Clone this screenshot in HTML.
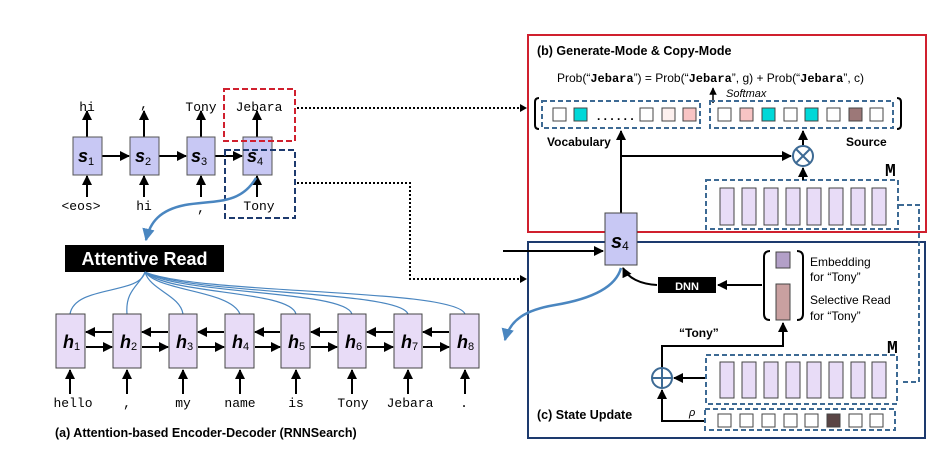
<!DOCTYPE html>
<html><head><meta charset="utf-8"><style>
html,body{margin:0;padding:0;background:#fff;}
svg{display:block;}
text{font-family:"Liberation Sans",sans-serif;}
.mono text, text.mono, tspan.mono{font-family:"Liberation Mono",monospace;}
</style></head><body>
<svg width="951" height="466" viewBox="0 0 951 466" xmlns="http://www.w3.org/2000/svg">
<defs>
<marker id="ah" viewBox="0 0 10 10" refX="9" refY="5" markerWidth="5" markerHeight="5" orient="auto"><path d="M0,0 L10,5 L0,10 z" fill="#000"/></marker>
<marker id="bh" viewBox="0 0 10 10" refX="9" refY="5" markerWidth="5" markerHeight="5" orient="auto"><path d="M0,0 L10,5 L0,10 z" fill="#4a86c0"/></marker>
</defs>
<rect width="951" height="466" fill="#fff"/>

<!-- Decoder -->
<g stroke="#000" stroke-width="2" marker-end="url(#ah)">
<line x1="102" y1="156" x2="129" y2="156"/>
<line x1="159" y1="156" x2="186" y2="156"/>
<line x1="215" y1="156" x2="242" y2="156"/>
<line x1="87" y1="137" x2="87" y2="111"/>
<line x1="144" y1="137" x2="144" y2="111"/>
<line x1="201" y1="137" x2="201" y2="111"/>
<line x1="257" y1="137" x2="257" y2="111"/>
<line x1="87" y1="197" x2="87" y2="176"/>
<line x1="144" y1="197" x2="144" y2="176"/>
<line x1="201" y1="197" x2="201" y2="176"/>
<line x1="257" y1="197" x2="257" y2="176"/>
</g>
<g fill="#c8c8f4" stroke="#555" stroke-width="1">
<rect x="73" y="137" width="29" height="38"/>
<rect x="130" y="137" width="29" height="38"/>
<rect x="187" y="137" width="28" height="38"/>
<rect x="243" y="137" width="29" height="38"/>
</g>
<g font-size="18" font-weight="bold" font-style="italic">
<text x="78" y="162">s<tspan font-size="11" font-weight="normal" font-style="normal" dy="3">1</tspan></text>
<text x="135" y="162">s<tspan font-size="11" font-weight="normal" font-style="normal" dy="3">2</tspan></text>
<text x="191" y="162">s<tspan font-size="11" font-weight="normal" font-style="normal" dy="3">3</tspan></text>
<text x="247" y="162">s<tspan font-size="11" font-weight="normal" font-style="normal" dy="3">4</tspan></text>
</g>
<g class="mono" font-size="13" text-anchor="middle">
<text x="87" y="111">hi</text>
<text x="144" y="108">,</text>
<text x="201" y="111">Tony</text>
<text x="259" y="111">Jebara</text>
<text x="81" y="210">&lt;eos&gt;</text>
<text x="144" y="210">hi</text>
<text x="201" y="212">,</text>
<text x="259" y="210">Tony</text>
</g>
<rect x="224" y="89" width="71" height="52" fill="none" stroke="#d0202e" stroke-width="2" stroke-dasharray="6,3"/>
<rect x="225" y="150" width="70" height="68" fill="none" stroke="#1d3a6e" stroke-width="2" stroke-dasharray="6,3"/>
<path d="M256,178 C240,205 215,200 185,205 C160,210 150,222 146,240" fill="none" stroke="#4a86c0" stroke-width="2.5" marker-end="url(#bh)"/>

<!-- dotted connectors -->
<g stroke="#000" stroke-width="2" stroke-dasharray="2,2" fill="none">
<line x1="297" y1="108" x2="522" y2="108"/>
<polyline points="297,183 410,183 410,279 522,279"/>
</g>
<path d="M520,104 L527,108 L520,112 z"/>
<path d="M520,275 L527,279 L520,283 z"/>

<!-- Attentive read -->
<rect x="65" y="245" width="159" height="27" fill="#000"/>
<text x="144.5" y="265" font-size="18" font-weight="bold" fill="#fff" text-anchor="middle">Attentive Read</text>
<g stroke="#4a86c0" stroke-width="1.2" fill="none">
<path d="M145,272 C140,295 75,285 70,314"/>
<path d="M145,272 C140,285 125,290 127,314"/>
<path d="M145,272 C150,290 180,295 183,314"/>
<path d="M145,272 C160,292 230,290 240,314"/>
<path d="M145,272 C170,295 290,290 296,314"/>
<path d="M145,272 C180,295 345,290 352,314"/>
<path d="M145,272 C190,295 400,290 408,314"/>
<path d="M145,272 C200,295 455,288 465,314"/>
</g>

<!-- encoder -->
<g fill="#e8dcf7" stroke="#444" stroke-width="1">
<rect x="56" y="314" width="29" height="54"/>
<rect x="113" y="314" width="28" height="54"/>
<rect x="169" y="314" width="28" height="54"/>
<rect x="225" y="314" width="29" height="54"/>
<rect x="281" y="314" width="29" height="54"/>
<rect x="338" y="314" width="28" height="54"/>
<rect x="394" y="314" width="28" height="54"/>
<rect x="450" y="314" width="29" height="54"/>
</g>
<g stroke="#000" stroke-width="2" marker-end="url(#ah)">
<line x1="112" y1="332" x2="86" y2="332"/><line x1="86" y1="347" x2="112" y2="347"/>
<line x1="168" y1="332" x2="142" y2="332"/><line x1="142" y1="347" x2="168" y2="347"/>
<line x1="224" y1="332" x2="198" y2="332"/><line x1="198" y1="347" x2="224" y2="347"/>
<line x1="280" y1="332" x2="255" y2="332"/><line x1="255" y1="347" x2="280" y2="347"/>
<line x1="337" y1="332" x2="311" y2="332"/><line x1="311" y1="347" x2="337" y2="347"/>
<line x1="393" y1="332" x2="367" y2="332"/><line x1="367" y1="347" x2="393" y2="347"/>
<line x1="449" y1="332" x2="423" y2="332"/><line x1="423" y1="347" x2="449" y2="347"/>
<line x1="70" y1="394" x2="70" y2="370"/><line x1="127" y1="394" x2="127" y2="370"/>
<line x1="183" y1="394" x2="183" y2="370"/><line x1="240" y1="394" x2="240" y2="370"/>
<line x1="296" y1="394" x2="296" y2="370"/><line x1="352" y1="394" x2="352" y2="370"/>
<line x1="408" y1="394" x2="408" y2="370"/><line x1="465" y1="394" x2="465" y2="370"/>
</g>
<g font-size="18" font-weight="bold" font-style="italic">
<text x="63" y="348">h<tspan font-size="11" font-weight="normal" font-style="normal" dy="2">1</tspan></text>
<text x="120" y="348">h<tspan font-size="11" font-weight="normal" font-style="normal" dy="2">2</tspan></text>
<text x="176" y="348">h<tspan font-size="11" font-weight="normal" font-style="normal" dy="2">3</tspan></text>
<text x="232" y="348">h<tspan font-size="11" font-weight="normal" font-style="normal" dy="2">4</tspan></text>
<text x="288" y="348">h<tspan font-size="11" font-weight="normal" font-style="normal" dy="2">5</tspan></text>
<text x="345" y="348">h<tspan font-size="11" font-weight="normal" font-style="normal" dy="2">6</tspan></text>
<text x="401" y="348">h<tspan font-size="11" font-weight="normal" font-style="normal" dy="2">7</tspan></text>
<text x="457" y="348">h<tspan font-size="11" font-weight="normal" font-style="normal" dy="2">8</tspan></text>
</g>
<g class="mono" font-size="13" text-anchor="middle">
<text x="73" y="407">hello</text><text x="127" y="407">,</text><text x="183" y="407">my</text>
<text x="240" y="407">name</text><text x="296" y="407">is</text><text x="353" y="407">Tony</text>
<text x="410" y="407">Jebara</text><text x="464" y="407">.</text>
</g>
<text x="55" y="437" font-size="12.5" font-weight="bold">(a) Attention-based Encoder-Decoder (RNNSearch)</text>

<!-- right boxes -->
<rect x="528" y="35" width="398" height="197" fill="none" stroke="#d0202e" stroke-width="2"/>
<rect x="528" y="242" width="397" height="196" fill="none" stroke="#1d3a6e" stroke-width="2"/>
<text x="537" y="55" font-size="12.5" font-weight="bold">(b) Generate-Mode &amp; Copy-Mode</text>
<text x="557" y="82" font-size="12">Prob(“<tspan class="mono" font-weight="bold">Jebara</tspan>”) = Prob(“<tspan class="mono" font-weight="bold">Jebara</tspan>”, g) + Prob(“<tspan class="mono" font-weight="bold">Jebara</tspan>”, c)</text>
<text x="726" y="97" font-size="11" font-style="italic">Softmax</text>
<line x1="713" y1="103" x2="713" y2="88" stroke="#000" stroke-width="1.5" marker-end="url(#ah)"/>
<path d="M539,98 Q535,98 535,102 L535,125 Q535,129 539,129" fill="none" stroke="#000" stroke-width="2"/>
<path d="M897,98 Q901,98 901,102 L901,125 Q901,129 897,129" fill="none" stroke="#000" stroke-width="2"/>
<g fill="none" stroke="#3d6a94" stroke-width="2" stroke-dasharray="5,3">
<rect x="542" y="101" width="158" height="27"/>
<rect x="710" y="101" width="183" height="27"/>
<rect x="706" y="180" width="192" height="49"/>
<rect x="706" y="355" width="191" height="49"/>
<rect x="705" y="409" width="190" height="21"/>
<polyline points="899,205 919,205 919,382 902,382"/>
</g>
<g stroke="#444" stroke-width="1">
<rect x="553" y="108" width="13" height="13" fill="#fff"/>
<rect x="574" y="108" width="13" height="13" fill="#00d8d8"/>
<rect x="640" y="108" width="13" height="13" fill="#fff"/>
<rect x="662" y="108" width="13" height="13" fill="#fdf0ee"/>
<rect x="683" y="108" width="13" height="13" fill="#f8c4c4"/>
<rect x="718" y="108" width="13" height="13" fill="#fff"/>
<rect x="740" y="108" width="13" height="13" fill="#f8c4c4"/>
<rect x="762" y="108" width="13" height="13" fill="#00d8d8"/>
<rect x="784" y="108" width="13" height="13" fill="#fff"/>
<rect x="805" y="108" width="13" height="13" fill="#00d8d8"/>
<rect x="827" y="108" width="13" height="13" fill="#fff"/>
<rect x="849" y="108" width="13" height="13" fill="#9c7878"/>
<rect x="870" y="108" width="13" height="13" fill="#fff"/>
</g>
<text x="597" y="120" font-size="12" font-weight="bold">. . .  . . .</text>
<text x="547" y="146" font-size="12" font-weight="bold">Vocabulary</text>
<text x="846" y="146" font-size="12" font-weight="bold">Source</text>
<g stroke="#000" stroke-width="2" fill="none">
<line x1="621" y1="213" x2="621" y2="131" marker-end="url(#ah)"/>
<line x1="621" y1="156" x2="791" y2="156" marker-end="url(#ah)"/>
<line x1="803" y1="145" x2="803" y2="131" marker-end="url(#ah)"/>
<line x1="803" y1="180" x2="803" y2="168" marker-end="url(#ah)"/>
</g>
<circle cx="803" cy="156" r="10" fill="#fff" stroke="#3d6a94" stroke-width="2"/>
<path d="M796,149 L810,163 M810,149 L796,163" stroke="#3d6a94" stroke-width="2"/>
<text x="885" y="176" class="mono" font-size="18" font-weight="bold">M</text>
<g fill="#e8dcf7" stroke="#444" stroke-width="1">
<rect x="720" y="188" width="14" height="37"/><rect x="742" y="188" width="14" height="37"/>
<rect x="764" y="188" width="14" height="37"/><rect x="786" y="188" width="14" height="37"/>
<rect x="807" y="188" width="14" height="37"/><rect x="829" y="188" width="14" height="37"/>
<rect x="851" y="188" width="14" height="37"/><rect x="872" y="188" width="14" height="37"/>
<rect x="720" y="362" width="14" height="36"/><rect x="742" y="362" width="14" height="36"/>
<rect x="764" y="362" width="14" height="36"/><rect x="786" y="362" width="14" height="36"/>
<rect x="807" y="362" width="14" height="36"/><rect x="829" y="362" width="14" height="36"/>
<rect x="851" y="362" width="14" height="36"/><rect x="872" y="362" width="14" height="36"/>
</g>

<!-- s4 big -->
<line x1="503" y1="251" x2="603" y2="251" stroke="#000" stroke-width="2" marker-end="url(#ah)"/>
<rect x="605" y="213" width="32" height="52" fill="#c8c8f4" stroke="#444" stroke-width="1"/>
<text x="611" y="248" font-size="20" font-weight="bold" font-style="italic">s<tspan font-size="12" font-weight="normal" font-style="normal" dy="2">4</tspan></text>
<path d="M621,268 C615,290 585,300 555,305 C525,310 510,320 505,340" fill="none" stroke="#4a86c0" stroke-width="2.5" marker-end="url(#bh)"/>
<path d="M657,285 C640,284 628,278 623,268" fill="none" stroke="#000" stroke-width="2" marker-end="url(#ah)"/>
<rect x="658" y="277" width="58" height="16" fill="#000"/>
<text x="687" y="290" font-size="11" font-weight="bold" fill="#fff" text-anchor="middle">DNN</text>
<line x1="762" y1="285" x2="718" y2="285" stroke="#000" stroke-width="2" marker-end="url(#ah)"/>
<path d="M770,251 Q764,251 764,257 L764,314 Q764,320 770,320" fill="none" stroke="#000" stroke-width="2"/>
<path d="M797,251 Q803,251 803,257 L803,314 Q803,320 797,320" fill="none" stroke="#000" stroke-width="2"/>
<rect x="776" y="252" width="14" height="16" fill="#b3a0c8" stroke="#444"/>
<rect x="776" y="284" width="14" height="36" fill="#c9a0a0" stroke="#444"/>
<g font-size="12">
<text x="810" y="266">Embedding</text><text x="810" y="281">for “Tony”</text>
<text x="810" y="304">Selective Read</text><text x="810" y="320">for “Tony”</text>
</g>
<text x="679" y="337" font-size="12" font-weight="bold">“Tony”</text>
<g stroke="#000" stroke-width="2" fill="none">
<polyline points="662,368 662,346 783,346 783,323" marker-end="url(#ah)"/>
<line x1="705" y1="378" x2="674" y2="378" marker-end="url(#ah)"/>
<polyline points="704,421 662,421 662,390" marker-end="url(#ah)"/>
</g>
<circle cx="662" cy="378" r="10" fill="#fff" stroke="#3d6a94" stroke-width="2"/>
<path d="M652,378 L672,378 M662,368 L662,388" stroke="#3d6a94" stroke-width="2"/>
<text x="887" y="353" class="mono" font-size="18" font-weight="bold">M</text>
<text x="689" y="416" font-size="11" font-style="italic">ρ</text>
<g stroke="#444" stroke-width="1" fill="#fff">
<rect x="718" y="414" width="13" height="13"/><rect x="740" y="414" width="13" height="13"/>
<rect x="762" y="414" width="13" height="13"/><rect x="784" y="414" width="13" height="13"/>
<rect x="805" y="414" width="13" height="13"/><rect x="827" y="414" width="13" height="13" fill="#5a4545"/>
<rect x="849" y="414" width="13" height="13"/><rect x="870" y="414" width="13" height="13"/>
</g>
<text x="537" y="419" font-size="12.5" font-weight="bold">(c) State Update</text>
</svg>
</body></html>
